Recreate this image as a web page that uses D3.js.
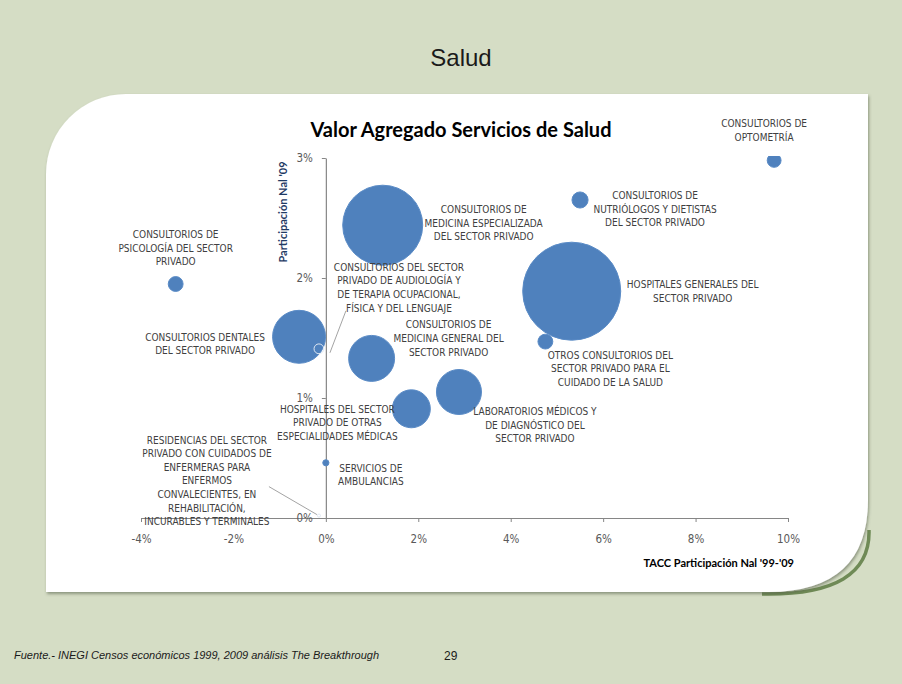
<!DOCTYPE html>
<html>
<head>
<meta charset="utf-8">
<script src="https://cdn.jsdelivr.net/npm/d3@7"></script>
<style>
  body { margin: 0; background: #d5ddc5; }
  svg { display: block; }
  .lbl { font-family: "Liberation Sans Narrow", "DejaVu Sans Condensed", sans-serif; font-size: 10px; fill: #404040; }
  .tick text { font-family: "Liberation Sans Narrow", "DejaVu Sans Condensed", sans-serif; font-size: 11.5px; fill: #595959; }
  .tick line, .domain { stroke: #868686; }
</style>
</head>
<body>
<div id="chart"></div>
<script>
// Sector names (one line per array entry)
const sectors = [
  ["CONSULTORIOS DE", "OPTOMETRÍA"],
  ["CONSULTORIOS DE", "NUTRIÓLOGOS Y DIETISTAS", "DEL SECTOR PRIVADO"],
  ["CONSULTORIOS DE", "MEDICINA ESPECIALIZADA", "DEL SECTOR PRIVADO"],
  ["HOSPITALES GENERALES DEL", "SECTOR PRIVADO"],
  ["OTROS CONSULTORIOS DEL", "SECTOR PRIVADO PARA EL", "CUIDADO DE LA SALUD"],
  ["CONSULTORIOS DE", "PSICOLOGÍA DEL SECTOR", "PRIVADO"],
  ["CONSULTORIOS DENTALES", "DEL SECTOR PRIVADO"],
  ["CONSULTORIOS DEL SECTOR", "PRIVADO DE AUDIOLOGÍA Y", "DE TERAPIA OCUPACIONAL,", "FÍSICA Y DEL LENGUAJE"],
  ["CONSULTORIOS DE", "MEDICINA GENERAL DEL", "SECTOR PRIVADO"],
  ["LABORATORIOS MÉDICOS Y", "DE DIAGNÓSTICO DEL", "SECTOR PRIVADO"],
  ["HOSPITALES DEL SECTOR", "PRIVADO DE OTRAS", "ESPECIALIDADES MÉDICAS"],
  ["SERVICIOS DE", "AMBULANCIAS"],
  ["RESIDENCIAS DEL SECTOR", "PRIVADO CON CUIDADOS DE", "ENFERMERAS PARA", "ENFERMOS", "CONVALECIENTES, EN", "REHABILITACIÓN,", "INCURABLES Y TERMINALES"]
];
// TACC Participación Nal '99-'09 (%)
const tacc = [9.7, 5.5, 1.23, 5.32, 4.75, -3.25, -0.58, -0.15, 0.99, 2.88, 1.85, 0.0, -0.15];
// Participación Nal '09 (%)
const participacion = [2.98, 2.65, 2.44, 1.89, 1.47, 1.95, 1.51, 1.41, 1.33, 1.05, 0.91, 0.46, 0.02];
// Bubble size (relative)
const bubbleSize = [2.0, 2.7, 66.6, 100, 2.3, 2.3, 29.2, 1.0, 22.0, 21.1, 15.0, 0.4, 0.1];
// Hollow bubbles (negative values in the original)
const hollow = [false, false, false, false, false, false, false, true, false, false, false, false, true];

const xTicks = [-4, -2, 0, 2, 4, 6, 8, 10];
const yTicks = [0, 1, 2, 3];

// label placement relative to the bubble centre: [dx, dy of first baseline]
const labelOffset = [
  [-10, -33], [75, -1], [101, -12], [121, -3], [65, 17], [0, -46], [-94, 4],
  [80, -78], [77, -30], [76, 23], [-74, 4], [45, 9], [-112, -72]
];
// leader lines [x1, y1, x2, y2] relative to bubble centre
const leaders = { 7: [11, 4, 27, -38], 12: [-2, -1, -50, -29] };

const W = 902, H = 684;
const svg = d3.select("#chart").append("svg")
  .attr("width", W)
  .attr("height", H);

svg.append("rect").attr("width", W).attr("height", H).attr("fill", "#d5ddc5");

// slide title
svg.append("text")
  .attr("x", 461).attr("y", 66)
  .attr("text-anchor", "middle")
  .style("font-family", "Liberation Sans, Arial, sans-serif")
  .style("font-size", "24px")
  .attr("fill", "#1a1a1a")
  .text("Salud");

// card with shadow
const defs = svg.append("defs");
const f = defs.append("filter").attr("id", "shadow").attr("x", "-5%").attr("y", "-5%").attr("width", "115%").attr("height", "120%");
f.append("feDropShadow").attr("dx", 1).attr("dy", 2).attr("stdDeviation", 1.5)
  .attr("flood-color", "#4f5a44").attr("flood-opacity", 0.55);

const cardPath = "M46,592 L46,174 A80,80 0 0 1 126,94 L868,94 L868,500 Q868,592 768,592 Z";
svg.append("path")
  .attr("d", "M869,530 Q871,596 762,594")
  .attr("fill", "none")
  .attr("stroke", "#6f8a56")
  .attr("stroke-width", 3.5);
svg.append("path")
  .attr("d", cardPath)
  .attr("fill", "#ffffff")
  .attr("filter", "url(#shadow)");

// chart title
svg.append("text")
  .attr("x", 461).attr("y", 137)
  .attr("text-anchor", "middle")
  .style("font-family", "Lato, 'Open Sans', sans-serif")
  .style("font-weight", "bold")
  .style("font-size", "20px")
  .attr("fill", "#000")
  .text("Valor Agregado Servicios de Salud");

// scales
const x = d3.scaleLinear().domain([-4, 10]).range([141, 788]);
const y = d3.scaleLinear().domain([0, 3]).range([518, 158]);
const r = d3.scaleSqrt().domain([0, 100]).range([0, 49]);

// axes
svg.append("g")
  .attr("transform", `translate(0,${y(0)})`)
  .call(d3.axisBottom(x).tickValues(xTicks).tickFormat(d => d + "%").tickSize(4).tickSizeOuter(0).tickPadding(13));

svg.append("g")
  .attr("transform", `translate(${x(0)},0)`)
  .call(d3.axisLeft(y).tickValues(yTicks).tickFormat(d => d + "%").tickSize(4).tickSizeOuter(0).tickPadding(9));

svg.selectAll(".domain").attr("stroke-width", 1.2);

// axis titles
svg.append("text")
  .attr("x", 794).attr("y", 567)
  .attr("text-anchor", "end")
  .style("font-family", "Lato, sans-serif")
  .style("font-weight", "bold")
  .style("font-size", "11px")
  .attr("fill", "#000")
  .text("TACC Participación Nal '99-'09");

svg.append("text")
  .attr("transform", "rotate(-90)")
  .attr("x", -212).attr("y", 287)
  .attr("text-anchor", "middle")
  .style("font-family", "Lato, sans-serif")
  .style("font-weight", "bold")
  .style("font-size", "11px")
  .attr("fill", "#1f3a64")
  .text("Participación Nal '09");

// bubbles (clipped to plot area)
defs.append("clipPath").attr("id", "plotclip")
  .append("rect").attr("x", 60).attr("y", 156).attr("width", 790).attr("height", 400);

const points = sectors.map((s, i) => ({
  lines: s, x: tacc[i], y: participacion[i], size: bubbleSize[i], hollow: hollow[i], i: i
}));

const sorted = points.slice().sort((a, b) => b.size - a.size);
svg.append("g").attr("clip-path", "url(#plotclip)")
  .selectAll("circle")
  .data(sorted)
  .enter()
  .append("circle")
  .attr("cx", d => x(d.x))
  .attr("cy", d => y(d.y))
  .attr("r", d => r(d.size))
  .attr("fill", d => d.hollow ? "none" : "#4f81bd")
  .attr("stroke", d => d.hollow ? "#dfe8f3" : "#5a8bc6")
  .attr("stroke-width", 1);

// leader lines
Object.keys(leaders).forEach(k => {
  const d = points[k], l = leaders[k];
  svg.append("line")
    .attr("x1", x(d.x) + l[0]).attr("y1", y(d.y) + l[1])
    .attr("x2", x(d.x) + l[2]).attr("y2", y(d.y) + l[3])
    .attr("stroke", "#8c8c8c").attr("stroke-width", 0.8);
});

// labels
points.forEach(d => {
  const t = svg.append("text")
    .attr("class", "lbl")
    .attr("text-anchor", "middle");
  d.lines.forEach((line, j) => {
    t.append("tspan")
      .attr("x", x(d.x) + labelOffset[d.i][0])
      .attr("y", y(d.y) + labelOffset[d.i][1] + j * 13.6)
      .text(line);
  });
});

// footer
svg.append("text")
  .attr("x", 14).attr("y", 659)
  .style("font-family", "Liberation Sans, Arial, sans-serif")
  .style("font-style", "italic")
  .style("font-size", "11px")
  .attr("fill", "#1a1a1a")
  .text("Fuente.- INEGI Censos económicos 1999, 2009 análisis The Breakthrough");

svg.append("text")
  .attr("x", 444).attr("y", 660)
  .style("font-family", "Liberation Sans, Arial, sans-serif")
  .style("font-size", "12px")
  .attr("fill", "#1a1a1a")
  .text("29");
</script>
</body>
</html>
